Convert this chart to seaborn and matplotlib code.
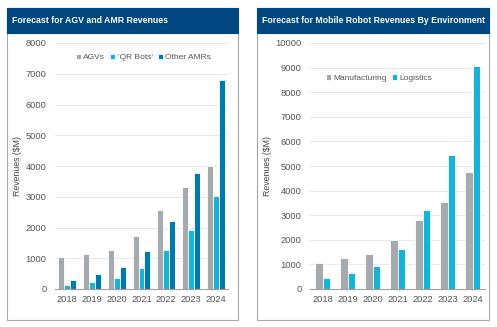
import matplotlib
matplotlib.use("Agg")
import matplotlib.pyplot as plt
from matplotlib.patches import Rectangle
from matplotlib.ticker import FixedLocator
import seaborn as sns
import pandas as pd

years = ["2018", "2019", "2020", "2021", "2022", "2023", "2024"]
agvs = [1050, 1150, 1270, 1720, 2560, 3330, 4000]
qr_bots = [130, 240, 370, 670, 1260, 1920, 3030]
other_amrs = [290, 490, 720, 1240, 2200, 3760, 6800]
manufacturing = [1050, 1250, 1420, 2000, 2800, 3550, 4750]
logistics = [430, 640, 950, 1620, 3220, 5450, 9080]

left_title = "Forecast for AGV and AMR Revenues"
right_title = "Forecast for Mobile Robot Revenues By Environment"
ylabel = "Revenues ($M)"

GRAY = "#A4AAAD"
CYAN = "#17B2D8"
BLUE = "#0079AC"
HEADER = "#00467F"
TEXT = "#555555"

sns.set_theme(style="white")
plt.rcParams["font.family"] = ["Liberation Sans", "DejaVu Sans"]

fig = plt.figure(figsize=(4.97, 3.27), dpi=100)
W, H = 497, 327


def fx(px):
    return px / W


def fy(py):
    return 1 - py / H


# panel boxes and headers
for (x0, x1, title) in [(7, 238, left_title), (257, 489, right_title)]:
    fig.patches.append(Rectangle((fx(x0), fy(320)), fx(x1 - x0), (320 - 8) / H,
                                 transform=fig.transFigure, facecolor="white",
                                 edgecolor="#A8A8A8", linewidth=0.8, zorder=-5))
    fig.patches.append(Rectangle((fx(x0), fy(33)), fx(x1 - x0), (33 - 8) / H,
                                 transform=fig.transFigure, facecolor=HEADER,
                                 edgecolor=HEADER, linewidth=0.8, zorder=-4))
    fig.text(fx(x0 + 5), fy(20.5), title, color="white",
             fontsize=6.3, fontweight="bold", ha="left", va="center")


def style_axis(ax, ymax, step):
    ax.set_facecolor("none")
    ax.set_ylim(0, ymax)
    ax.set_xlim(-0.5, len(years) - 0.5)
    ax.set_yticks(range(0, ymax + 1, step))
    ax.yaxis.grid(True, color="#E8E8E8", linewidth=0.7)
    ax.set_axisbelow(True)
    for s in ["top", "right", "left"]:
        ax.spines[s].set_visible(False)
    ax.spines["bottom"].set_color("#A0A0A0")
    ax.spines["bottom"].set_linewidth(0.8)
    ax.tick_params(axis="x", which="major", length=0, labelsize=6.7, colors=TEXT, pad=4)
    ax.tick_params(axis="y", length=0, labelsize=6.7, colors=TEXT, pad=6)
    ax.xaxis.set_minor_locator(FixedLocator([i - 0.5 for i in range(len(years) + 1)]))
    ax.tick_params(axis="x", which="minor", length=3, color="#A0A0A0", width=0.8)
    ax.set_xlabel("")
    ax.set_ylabel(ylabel, fontsize=6.3, color="#444444", labelpad=2.5)


def style_legend(ax, x_px, y_px, x0_px):
    leg = ax.legend(loc="center left",
                    bbox_to_anchor=((x_px - x0_px) / 175, (289 - y_px) / 246),
                    ncol=3, frameon=False, fontsize=6.0, handlelength=0.6,
                    handleheight=0.6, handletextpad=0.3, columnspacing=0.6,
                    borderpad=0, borderaxespad=0)
    for t in leg.get_texts():
        t.set_color(TEXT)


# left chart
df1 = pd.DataFrame({
    "year": years * 3,
    "value": agvs + qr_bots + other_amrs,
    "series": ["AGVs"] * 7 + ["'QR Bots'"] * 7 + ["Other AMRs"] * 7,
})
ax1 = fig.add_axes([fx(55), fy(289), fx(228 - 55), (289 - 43) / H])
sns.barplot(data=df1, x="year", y="value", hue="series", ax=ax1,
            palette=[GRAY, CYAN, BLUE], width=0.72, edgecolor="white",
            linewidth=0.6, saturation=1)
style_axis(ax1, 8000, 1000)
style_legend(ax1, 76, 57.5, 55)

# right chart
df2 = pd.DataFrame({
    "year": years * 2,
    "value": manufacturing + logistics,
    "series": ["Manufacturing"] * 7 + ["Logistics"] * 7,
})
ax2 = fig.add_axes([fx(310), fy(289), fx(485 - 310), (289 - 43) / H])
sns.barplot(data=df2, x="year", y="value", hue="series", ax=ax2,
            palette=[GRAY, CYAN], width=0.6, edgecolor="white",
            linewidth=0.6, saturation=1)
style_axis(ax2, 10000, 1000)
style_legend(ax2, 326, 78, 310)

fig.savefig("out.png", dpi=100)
